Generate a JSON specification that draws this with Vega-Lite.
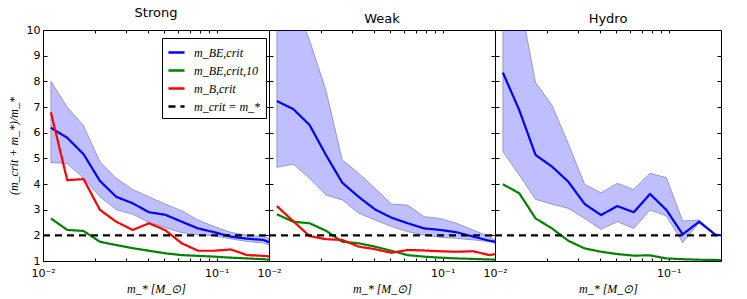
{
  "$schema": "https://vega.github.io/schema/vega-lite/v6.json",
  "padding": {"left": 6, "top": 6, "right": 5, "bottom": 5},
  "background": "white",
  "bounds": "flush",
  "config": {
    "view": {"stroke": "black", "strokeWidth": 1},
    "font": "DejaVu Sans",
    "axis": {"grid": false, "domain": false, "tickColor": "black", "labelColor": "black", "labelFont": "DejaVu Sans", "labelFontSize": 11, "titleColor": "black", "titleFont": "Liberation Serif", "titleFontStyle": "italic", "titleFontWeight": "normal", "titleFontSize": 12, "minExtent": 0},
    "title": {"font": "DejaVu Sans", "fontSize": 13, "fontWeight": "normal", "color": "black", "offset": 4},
    "legend": {"orient": "none", "legendX": 119, "legendY": 8, "strokeColor": "black", "fillColor": "white", "padding": 5, "symbolType": "stroke", "symbolSize": 260, "symbolStrokeWidth": 2.5, "labelFont": "Liberation Serif", "labelFontStyle": "italic", "labelFontSize": 12, "labelColor": "black", "labelOffset": 8, "rowPadding": 2, "cornerRadius": 0}
  },
  "datasets": {
    "d": [
      {"p": "Strong", "s": "band", "x": 0.0111, "lo": 4.83, "hi": 8.0},
      {"p": "Strong", "s": "band", "x": 0.01379, "lo": 4.8, "hi": 7.0},
      {"p": "Strong", "s": "band", "x": 0.01712, "lo": 4.22, "hi": 6.27},
      {"p": "Strong", "s": "band", "x": 0.02127, "lo": 3.5, "hi": 4.87},
      {"p": "Strong", "s": "band", "x": 0.02641, "lo": 3.0, "hi": 4.22},
      {"p": "Strong", "s": "band", "x": 0.03281, "lo": 2.82, "hi": 3.79},
      {"p": "Strong", "s": "band", "x": 0.04075, "lo": 2.5, "hi": 3.5},
      {"p": "Strong", "s": "band", "x": 0.05061, "lo": 2.3, "hi": 3.22},
      {"p": "Strong", "s": "band", "x": 0.06286, "lo": 2.1, "hi": 2.96},
      {"p": "Strong", "s": "band", "x": 0.07807, "lo": 2.02, "hi": 2.6},
      {"p": "Strong", "s": "band", "x": 0.09696, "lo": 1.98, "hi": 2.34},
      {"p": "Strong", "s": "band", "x": 0.1204, "lo": 1.86, "hi": 2.12},
      {"p": "Strong", "s": "band", "x": 0.1496, "lo": 1.76, "hi": 2.0},
      {"p": "Strong", "s": "band", "x": 0.1858, "lo": 1.7, "hi": 1.97},
      {"p": "Strong", "s": "band", "x": 0.2, "lo": 1.62, "hi": 1.88},

      {"p": "Strong", "s": "m_BE,crit", "x": 0.0111, "y": 6.19},
      {"p": "Strong", "s": "m_BE,crit", "x": 0.01379, "y": 5.8},
      {"p": "Strong", "s": "m_BE,crit", "x": 0.01712, "y": 5.16},
      {"p": "Strong", "s": "m_BE,crit", "x": 0.02127, "y": 4.12},
      {"p": "Strong", "s": "m_BE,crit", "x": 0.02641, "y": 3.5},
      {"p": "Strong", "s": "m_BE,crit", "x": 0.03281, "y": 3.25},
      {"p": "Strong", "s": "m_BE,crit", "x": 0.04075, "y": 2.9},
      {"p": "Strong", "s": "m_BE,crit", "x": 0.05061, "y": 2.8},
      {"p": "Strong", "s": "m_BE,crit", "x": 0.06286, "y": 2.53},
      {"p": "Strong", "s": "m_BE,crit", "x": 0.07807, "y": 2.27},
      {"p": "Strong", "s": "m_BE,crit", "x": 0.09696, "y": 2.12},
      {"p": "Strong", "s": "m_BE,crit", "x": 0.1204, "y": 1.95},
      {"p": "Strong", "s": "m_BE,crit", "x": 0.1496, "y": 1.87},
      {"p": "Strong", "s": "m_BE,crit", "x": 0.1858, "y": 1.82},
      {"p": "Strong", "s": "m_BE,crit", "x": 0.2, "y": 1.73},

      {"p": "Strong", "s": "m_BE,crit,10", "x": 0.0111, "y": 2.66},
      {"p": "Strong", "s": "m_BE,crit,10", "x": 0.01379, "y": 2.21},
      {"p": "Strong", "s": "m_BE,crit,10", "x": 0.01712, "y": 2.17},
      {"p": "Strong", "s": "m_BE,crit,10", "x": 0.02127, "y": 1.75},
      {"p": "Strong", "s": "m_BE,crit,10", "x": 0.02641, "y": 1.62},
      {"p": "Strong", "s": "m_BE,crit,10", "x": 0.03281, "y": 1.5},
      {"p": "Strong", "s": "m_BE,crit,10", "x": 0.04075, "y": 1.4},
      {"p": "Strong", "s": "m_BE,crit,10", "x": 0.05061, "y": 1.3},
      {"p": "Strong", "s": "m_BE,crit,10", "x": 0.06286, "y": 1.23},
      {"p": "Strong", "s": "m_BE,crit,10", "x": 0.07807, "y": 1.2},
      {"p": "Strong", "s": "m_BE,crit,10", "x": 0.09696, "y": 1.17},
      {"p": "Strong", "s": "m_BE,crit,10", "x": 0.1204, "y": 1.13},
      {"p": "Strong", "s": "m_BE,crit,10", "x": 0.1496, "y": 1.1},
      {"p": "Strong", "s": "m_BE,crit,10", "x": 0.1858, "y": 1.07},
      {"p": "Strong", "s": "m_BE,crit,10", "x": 0.2, "y": 1.05},

      {"p": "Strong", "s": "m_B,crit", "x": 0.0111, "y": 6.8},
      {"p": "Strong", "s": "m_B,crit", "x": 0.01379, "y": 4.15},
      {"p": "Strong", "s": "m_B,crit", "x": 0.01712, "y": 4.19},
      {"p": "Strong", "s": "m_B,crit", "x": 0.02127, "y": 2.99},
      {"p": "Strong", "s": "m_B,crit", "x": 0.02641, "y": 2.53},
      {"p": "Strong", "s": "m_B,crit", "x": 0.03281, "y": 2.21},
      {"p": "Strong", "s": "m_B,crit", "x": 0.04075, "y": 2.47},
      {"p": "Strong", "s": "m_B,crit", "x": 0.05061, "y": 2.2},
      {"p": "Strong", "s": "m_B,crit", "x": 0.06286, "y": 1.69},
      {"p": "Strong", "s": "m_B,crit", "x": 0.07807, "y": 1.4},
      {"p": "Strong", "s": "m_B,crit", "x": 0.09696, "y": 1.4},
      {"p": "Strong", "s": "m_B,crit", "x": 0.1204, "y": 1.45},
      {"p": "Strong", "s": "m_B,crit", "x": 0.1496, "y": 1.23},
      {"p": "Strong", "s": "m_B,crit", "x": 0.1858, "y": 1.2},
      {"p": "Strong", "s": "m_B,crit", "x": 0.2, "y": 1.18},

      {"p": "Strong", "s": "m_crit = m_*", "x": 0.01, "y": 2},
      {"p": "Strong", "s": "m_crit = m_*", "x": 0.2, "y": 2},

      {"p": "Weak", "s": "band", "x": 0.0111, "lo": 4.65, "hi": 12.5},
      {"p": "Weak", "s": "band", "x": 0.01379, "lo": 4.77, "hi": 11.2},
      {"p": "Weak", "s": "band", "x": 0.01712, "lo": 4.22, "hi": 9.6},
      {"p": "Weak", "s": "band", "x": 0.02127, "lo": 3.57, "hi": 7.66},
      {"p": "Weak", "s": "band", "x": 0.02641, "lo": 3.38, "hi": 4.94},
      {"p": "Weak", "s": "band", "x": 0.03281, "lo": 2.86, "hi": 4.42},
      {"p": "Weak", "s": "band", "x": 0.04075, "lo": 2.6, "hi": 3.83},
      {"p": "Weak", "s": "band", "x": 0.05061, "lo": 2.34, "hi": 3.22},
      {"p": "Weak", "s": "band", "x": 0.06286, "lo": 2.14, "hi": 3.18},
      {"p": "Weak", "s": "band", "x": 0.07807, "lo": 2.01, "hi": 2.73},
      {"p": "Weak", "s": "band", "x": 0.09696, "lo": 1.92, "hi": 2.66},
      {"p": "Weak", "s": "band", "x": 0.1204, "lo": 1.88, "hi": 2.47},
      {"p": "Weak", "s": "band", "x": 0.1496, "lo": 1.82, "hi": 2.21},
      {"p": "Weak", "s": "band", "x": 0.1858, "lo": 1.75, "hi": 1.95},
      {"p": "Weak", "s": "band", "x": 0.2, "lo": 1.69, "hi": 1.82},

      {"p": "Weak", "s": "m_BE,crit", "x": 0.0111, "y": 7.23},
      {"p": "Weak", "s": "m_BE,crit", "x": 0.01379, "y": 6.92},
      {"p": "Weak", "s": "m_BE,crit", "x": 0.01712, "y": 6.3},
      {"p": "Weak", "s": "m_BE,crit", "x": 0.02127, "y": 5.13},
      {"p": "Weak", "s": "m_BE,crit", "x": 0.02641, "y": 4.05},
      {"p": "Weak", "s": "m_BE,crit", "x": 0.03281, "y": 3.5},
      {"p": "Weak", "s": "m_BE,crit", "x": 0.04075, "y": 3.01},
      {"p": "Weak", "s": "m_BE,crit", "x": 0.05061, "y": 2.69},
      {"p": "Weak", "s": "m_BE,crit", "x": 0.06286, "y": 2.47},
      {"p": "Weak", "s": "m_BE,crit", "x": 0.07807, "y": 2.27},
      {"p": "Weak", "s": "m_BE,crit", "x": 0.09696, "y": 2.21},
      {"p": "Weak", "s": "m_BE,crit", "x": 0.1204, "y": 2.12},
      {"p": "Weak", "s": "m_BE,crit", "x": 0.1496, "y": 1.95},
      {"p": "Weak", "s": "m_BE,crit", "x": 0.1858, "y": 1.79},
      {"p": "Weak", "s": "m_BE,crit", "x": 0.2, "y": 1.75},

      {"p": "Weak", "s": "m_BE,crit,10", "x": 0.0111, "y": 2.82},
      {"p": "Weak", "s": "m_BE,crit,10", "x": 0.01379, "y": 2.53},
      {"p": "Weak", "s": "m_BE,crit,10", "x": 0.01712, "y": 2.47},
      {"p": "Weak", "s": "m_BE,crit,10", "x": 0.02127, "y": 2.18},
      {"p": "Weak", "s": "m_BE,crit,10", "x": 0.02641, "y": 1.75},
      {"p": "Weak", "s": "m_BE,crit,10", "x": 0.03281, "y": 1.69},
      {"p": "Weak", "s": "m_BE,crit,10", "x": 0.04075, "y": 1.56},
      {"p": "Weak", "s": "m_BE,crit,10", "x": 0.05061, "y": 1.4},
      {"p": "Weak", "s": "m_BE,crit,10", "x": 0.06286, "y": 1.23},
      {"p": "Weak", "s": "m_BE,crit,10", "x": 0.07807, "y": 1.17},
      {"p": "Weak", "s": "m_BE,crit,10", "x": 0.09696, "y": 1.13},
      {"p": "Weak", "s": "m_BE,crit,10", "x": 0.1204, "y": 1.1},
      {"p": "Weak", "s": "m_BE,crit,10", "x": 0.1496, "y": 1.08},
      {"p": "Weak", "s": "m_BE,crit,10", "x": 0.1858, "y": 1.06},
      {"p": "Weak", "s": "m_BE,crit,10", "x": 0.2, "y": 1.05},

      {"p": "Weak", "s": "m_B,crit", "x": 0.0111, "y": 3.14},
      {"p": "Weak", "s": "m_B,crit", "x": 0.01379, "y": 2.55},
      {"p": "Weak", "s": "m_B,crit", "x": 0.01712, "y": 1.97},
      {"p": "Weak", "s": "m_B,crit", "x": 0.02127, "y": 1.85},
      {"p": "Weak", "s": "m_B,crit", "x": 0.02641, "y": 1.82},
      {"p": "Weak", "s": "m_B,crit", "x": 0.03281, "y": 1.56},
      {"p": "Weak", "s": "m_B,crit", "x": 0.04075, "y": 1.46},
      {"p": "Weak", "s": "m_B,crit", "x": 0.05061, "y": 1.32},
      {"p": "Weak", "s": "m_B,crit", "x": 0.06286, "y": 1.43},
      {"p": "Weak", "s": "m_B,crit", "x": 0.07807, "y": 1.41},
      {"p": "Weak", "s": "m_B,crit", "x": 0.09696, "y": 1.38},
      {"p": "Weak", "s": "m_B,crit", "x": 0.1204, "y": 1.36},
      {"p": "Weak", "s": "m_B,crit", "x": 0.1496, "y": 1.38},
      {"p": "Weak", "s": "m_B,crit", "x": 0.1858, "y": 1.23},
      {"p": "Weak", "s": "m_B,crit", "x": 0.2, "y": 1.27},

      {"p": "Weak", "s": "m_crit = m_*", "x": 0.01, "y": 2},
      {"p": "Weak", "s": "m_crit = m_*", "x": 0.2, "y": 2},

      {"p": "Hydro", "s": "band", "x": 0.0111, "lo": 5.26, "hi": 13.0},
      {"p": "Hydro", "s": "band", "x": 0.01379, "lo": 4.35, "hi": 11.3},
      {"p": "Hydro", "s": "band", "x": 0.01712, "lo": 3.4, "hi": 7.95},
      {"p": "Hydro", "s": "band", "x": 0.02127, "lo": 3.21, "hi": 7.08},
      {"p": "Hydro", "s": "band", "x": 0.02641, "lo": 3.05, "hi": 5.58},
      {"p": "Hydro", "s": "band", "x": 0.03281, "lo": 2.66, "hi": 3.99},
      {"p": "Hydro", "s": "band", "x": 0.04075, "lo": 2.23, "hi": 3.66},
      {"p": "Hydro", "s": "band", "x": 0.05061, "lo": 2.53, "hi": 4.03},
      {"p": "Hydro", "s": "band", "x": 0.06286, "lo": 2.27, "hi": 3.79},
      {"p": "Hydro", "s": "band", "x": 0.07807, "lo": 2.99, "hi": 4.42},
      {"p": "Hydro", "s": "band", "x": 0.09696, "lo": 2.75, "hi": 4.25},
      {"p": "Hydro", "s": "band", "x": 0.1204, "lo": 1.71, "hi": 2.56},
      {"p": "Hydro", "s": "band", "x": 0.1496, "lo": 2.49, "hi": 2.6},
      {"p": "Hydro", "s": "band", "x": 0.1858, "lo": 2.01, "hi": 2.03},
      {"p": "Hydro", "s": "band", "x": 0.2, "lo": 1.99, "hi": 2.01},

      {"p": "Hydro", "s": "m_BE,crit", "x": 0.0111, "y": 8.34},
      {"p": "Hydro", "s": "m_BE,crit", "x": 0.01379, "y": 6.88},
      {"p": "Hydro", "s": "m_BE,crit", "x": 0.01712, "y": 5.13},
      {"p": "Hydro", "s": "m_BE,crit", "x": 0.02127, "y": 4.68},
      {"p": "Hydro", "s": "m_BE,crit", "x": 0.02641, "y": 4.09},
      {"p": "Hydro", "s": "m_BE,crit", "x": 0.03281, "y": 3.22},
      {"p": "Hydro", "s": "m_BE,crit", "x": 0.04075, "y": 2.79},
      {"p": "Hydro", "s": "m_BE,crit", "x": 0.05061, "y": 3.14},
      {"p": "Hydro", "s": "m_BE,crit", "x": 0.06286, "y": 2.9},
      {"p": "Hydro", "s": "m_BE,crit", "x": 0.07807, "y": 3.61},
      {"p": "Hydro", "s": "m_BE,crit", "x": 0.09696, "y": 2.99},
      {"p": "Hydro", "s": "m_BE,crit", "x": 0.1204, "y": 2.04},
      {"p": "Hydro", "s": "m_BE,crit", "x": 0.1496, "y": 2.53},
      {"p": "Hydro", "s": "m_BE,crit", "x": 0.1858, "y": 2.02},
      {"p": "Hydro", "s": "m_BE,crit", "x": 0.2, "y": 2.0},

      {"p": "Hydro", "s": "m_BE,crit,10", "x": 0.0111, "y": 3.99},
      {"p": "Hydro", "s": "m_BE,crit,10", "x": 0.01379, "y": 3.64},
      {"p": "Hydro", "s": "m_BE,crit,10", "x": 0.01712, "y": 2.66},
      {"p": "Hydro", "s": "m_BE,crit,10", "x": 0.02127, "y": 2.27},
      {"p": "Hydro", "s": "m_BE,crit,10", "x": 0.02641, "y": 1.79},
      {"p": "Hydro", "s": "m_BE,crit,10", "x": 0.03281, "y": 1.49},
      {"p": "Hydro", "s": "m_BE,crit,10", "x": 0.04075, "y": 1.36},
      {"p": "Hydro", "s": "m_BE,crit,10", "x": 0.05061, "y": 1.27},
      {"p": "Hydro", "s": "m_BE,crit,10", "x": 0.06286, "y": 1.21},
      {"p": "Hydro", "s": "m_BE,crit,10", "x": 0.07807, "y": 1.22},
      {"p": "Hydro", "s": "m_BE,crit,10", "x": 0.09696, "y": 1.1},
      {"p": "Hydro", "s": "m_BE,crit,10", "x": 0.1204, "y": 1.07},
      {"p": "Hydro", "s": "m_BE,crit,10", "x": 0.1496, "y": 1.05},
      {"p": "Hydro", "s": "m_BE,crit,10", "x": 0.1858, "y": 1.04},
      {"p": "Hydro", "s": "m_BE,crit,10", "x": 0.2, "y": 1.03},

      {"p": "Hydro", "s": "m_crit = m_*", "x": 0.01, "y": 2},
      {"p": "Hydro", "s": "m_crit = m_*", "x": 0.2, "y": 2}
    ]
  },
  "spacing": 0,
  "hconcat": [
    {
      "width": 226, "height": 231,
      "title": "Strong",
      "data": {"name": "d"},
      "transform": [{"filter": "datum.p == 'Strong'"}],
      "layer": [
        {
          "transform": [{"filter": "datum.s == 'band'"}],
          "mark": {"type": "area", "clip": true, "fill": "#0000ff", "fillOpacity": 0.25, "stroke": "#000060", "strokeOpacity": 0.3, "strokeWidth": 1},
          "encoding": {
            "x": {"field": "x", "type": "quantitative", "scale": {"type": "log", "domain": [0.01, 0.2], "nice": false},
                  "axis": {"orient": "bottom", "values": [0.01, 0.02, 0.03, 0.04, 0.05, 0.06, 0.07, 0.08, 0.09, 0.1, 0.2], "labelExpr": "datum.value == 0.01 ? '10⁻²' : (datum.value == 0.1 ? '10⁻¹' : '')", "tickSize": -3, "labelPadding": 9, "labelFlush": false, "labelOverlap": false, "title": "m_* [M_⊙]", "titlePadding": 5}},
            "y": {"field": "lo", "type": "quantitative", "scale": {"domain": [1, 10], "nice": false},
                  "axis": {"orient": "left", "values": [1, 2, 3, 4, 5, 6, 7, 8, 9, 10], "tickSize": -4, "labelPadding": 7, "title": "(m_crit + m_*)/m_*", "titlePadding": 6}},
            "y2": {"field": "hi"}
          }
        },
        {
          "transform": [{"filter": "datum.s != 'band'"}],
          "mark": {"type": "line", "clip": true, "strokeWidth": 2.2},
          "encoding": {
            "x": {"field": "x", "type": "quantitative", "scale": {"type": "log", "domain": [0.01, 0.2], "nice": false},
                  "axis": {"orient": "top", "values": [0.01, 0.02, 0.03, 0.04, 0.05, 0.06, 0.07, 0.08, 0.09, 0.1, 0.2], "labels": false, "tickSize": -3, "title": null, "maxExtent": 0}},
            "y": {"field": "y", "type": "quantitative", "scale": {"domain": [1, 10], "nice": false},
                  "axis": {"orient": "right", "values": [1, 2, 3, 4, 5, 6, 7, 8, 9, 10], "labels": false, "tickSize": -4, "title": null, "maxExtent": 0}},
            "color": {"field": "s", "type": "nominal", "title": null, "scale": {"domain": ["m_BE,crit", "m_BE,crit,10", "m_B,crit", "m_crit = m_*"], "range": ["#0000ff", "#008000", "#ff0000", "#000000"]}},
            "strokeDash": {"field": "s", "type": "nominal", "title": null, "scale": {"domain": ["m_BE,crit", "m_BE,crit,10", "m_B,crit", "m_crit = m_*"], "range": [[1, 0], [1, 0], [1, 0], [7, 5]]}}
          }
        }
      ],
      "resolve": {"scale": {"x": "independent", "y": "independent"}}
    },
    {
      "width": 226, "height": 231,
      "title": "Weak",
      "data": {"name": "d"},
      "transform": [{"filter": "datum.p == 'Weak'"}],
      "layer": [
        {
          "transform": [{"filter": "datum.s == 'band'"}],
          "mark": {"type": "area", "clip": true, "fill": "#0000ff", "fillOpacity": 0.25, "stroke": "#000060", "strokeOpacity": 0.3, "strokeWidth": 1},
          "encoding": {
            "x": {"field": "x", "type": "quantitative", "scale": {"type": "log", "domain": [0.01, 0.2], "nice": false},
                  "axis": {"orient": "bottom", "values": [0.01, 0.02, 0.03, 0.04, 0.05, 0.06, 0.07, 0.08, 0.09, 0.1, 0.2], "labelExpr": "datum.value == 0.01 ? '10⁻²' : (datum.value == 0.1 ? '10⁻¹' : '')", "tickSize": -3, "labelPadding": 9, "labelFlush": false, "labelOverlap": false, "title": "m_* [M_⊙]", "titlePadding": 5}},
            "y": {"field": "lo", "type": "quantitative", "scale": {"domain": [1, 10], "nice": false},
                  "axis": {"orient": "left", "values": [1, 2, 3, 4, 5, 6, 7, 8, 9, 10], "labels": false, "tickSize": -4, "title": null, "maxExtent": 0}},
            "y2": {"field": "hi"}
          }
        },
        {
          "transform": [{"filter": "datum.s != 'band'"}],
          "mark": {"type": "line", "clip": true, "strokeWidth": 2.2},
          "encoding": {
            "x": {"field": "x", "type": "quantitative", "scale": {"type": "log", "domain": [0.01, 0.2], "nice": false},
                  "axis": {"orient": "top", "values": [0.01, 0.02, 0.03, 0.04, 0.05, 0.06, 0.07, 0.08, 0.09, 0.1, 0.2], "labels": false, "tickSize": -3, "title": null, "maxExtent": 0}},
            "y": {"field": "y", "type": "quantitative", "scale": {"domain": [1, 10], "nice": false},
                  "axis": {"orient": "right", "values": [1, 2, 3, 4, 5, 6, 7, 8, 9, 10], "labels": false, "tickSize": -4, "title": null, "maxExtent": 0}},
            "color": {"field": "s", "type": "nominal", "title": null, "scale": {"domain": ["m_BE,crit", "m_BE,crit,10", "m_B,crit", "m_crit = m_*"], "range": ["#0000ff", "#008000", "#ff0000", "#000000"]}},
            "strokeDash": {"field": "s", "type": "nominal", "title": null, "scale": {"domain": ["m_BE,crit", "m_BE,crit,10", "m_B,crit", "m_crit = m_*"], "range": [[1, 0], [1, 0], [1, 0], [7, 5]]}}
          }
        }
      ],
      "resolve": {"scale": {"x": "independent", "y": "independent"}}
    },
    {
      "width": 226, "height": 231,
      "title": "Hydro",
      "data": {"name": "d"},
      "transform": [{"filter": "datum.p == 'Hydro'"}],
      "layer": [
        {
          "transform": [{"filter": "datum.s == 'band'"}],
          "mark": {"type": "area", "clip": true, "fill": "#0000ff", "fillOpacity": 0.25, "stroke": "#000060", "strokeOpacity": 0.3, "strokeWidth": 1},
          "encoding": {
            "x": {"field": "x", "type": "quantitative", "scale": {"type": "log", "domain": [0.01, 0.2], "nice": false},
                  "axis": {"orient": "bottom", "values": [0.01, 0.02, 0.03, 0.04, 0.05, 0.06, 0.07, 0.08, 0.09, 0.1, 0.2], "labelExpr": "datum.value == 0.01 ? '10⁻²' : (datum.value == 0.1 ? '10⁻¹' : '')", "tickSize": -3, "labelPadding": 9, "labelFlush": false, "labelOverlap": false, "title": "m_* [M_⊙]", "titlePadding": 5}},
            "y": {"field": "lo", "type": "quantitative", "scale": {"domain": [1, 10], "nice": false},
                  "axis": {"orient": "left", "values": [1, 2, 3, 4, 5, 6, 7, 8, 9, 10], "labels": false, "tickSize": -4, "title": null, "maxExtent": 0}},
            "y2": {"field": "hi"}
          }
        },
        {
          "transform": [{"filter": "datum.s != 'band'"}],
          "mark": {"type": "line", "clip": true, "strokeWidth": 2.2},
          "encoding": {
            "x": {"field": "x", "type": "quantitative", "scale": {"type": "log", "domain": [0.01, 0.2], "nice": false},
                  "axis": {"orient": "top", "values": [0.01, 0.02, 0.03, 0.04, 0.05, 0.06, 0.07, 0.08, 0.09, 0.1, 0.2], "labels": false, "tickSize": -3, "title": null, "maxExtent": 0}},
            "y": {"field": "y", "type": "quantitative", "scale": {"domain": [1, 10], "nice": false},
                  "axis": {"orient": "right", "values": [1, 2, 3, 4, 5, 6, 7, 8, 9, 10], "labels": false, "tickSize": -4, "title": null, "maxExtent": 0}},
            "color": {"field": "s", "type": "nominal", "title": null, "scale": {"domain": ["m_BE,crit", "m_BE,crit,10", "m_B,crit", "m_crit = m_*"], "range": ["#0000ff", "#008000", "#ff0000", "#000000"]}},
            "strokeDash": {"field": "s", "type": "nominal", "title": null, "scale": {"domain": ["m_BE,crit", "m_BE,crit,10", "m_B,crit", "m_crit = m_*"], "range": [[1, 0], [1, 0], [1, 0], [7, 5]]}}
          }
        }
      ],
      "resolve": {"scale": {"x": "independent", "y": "independent"}}
    }
  ]
}
